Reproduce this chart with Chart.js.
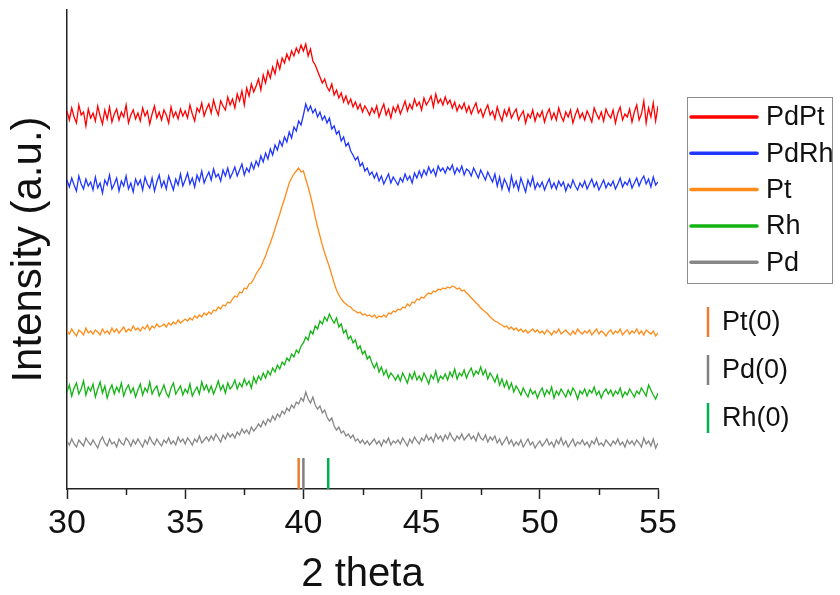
<!DOCTYPE html>
<html>
<head>
<meta charset="utf-8">
<script src="https://cdn.jsdelivr.net/npm/chart.js@4.4.1/dist/chart.umd.min.js"></script>
<style>
  html, body { margin: 0; padding: 0; background: #fff; }
  #wrap { width: 840px; height: 595px; }
</style>
</head>
<body>
<div id="wrap"><canvas id="c" width="840" height="595"></canvas></div>
<script>
// 2-theta sampling grid: 30.0 .. 55.0, step 0.1 (251 points)
const thetaStart = 30;
const thetaStep = 0.1;

// Offset intensities (a.u.), one value per 0.1 deg
const PdPt = [
  378,369,381,372,366,384,374,377,363,380,
  371,376,368,383,373,365,379,370,382,367,
  375,380,369,377,372,384,366,374,379,370,
  376,368,381,373,378,365,375,383,371,377,
  369,379,374,366,382,372,377,370,380,373,
  378,371,384,375,368,381,377,386,373,380,
  385,376,389,380,374,388,383,379,392,384,
  390,381,395,388,398,384,401,393,405,397,
  403,410,399,414,406,418,411,422,415,428,
  420,431,426,435,429,438,433,441,436,444,
  438,445,433,440,428,424,418,412,406,410,
  402,398,405,394,399,391,396,387,393,385,
  390,382,387,380,385,377,383,379,374,381,
  376,383,372,379,385,374,380,371,382,377,
  384,375,381,388,378,385,380,390,383,387,
  379,391,384,388,393,382,395,386,390,384,
  392,385,389,381,387,378,384,380,386,377,
  383,375,381,386,376,380,372,379,384,374,
  378,370,382,374,368,379,373,381,371,376,
  380,369,374,378,366,375,371,379,368,376,
  372,378,367,375,380,370,376,369,381,373,
  368,377,372,379,366,374,380,371,376,369,
  378,373,367,381,375,370,377,368,380,374,
  371,379,366,376,382,369,375,372,380,367,
  377,384,369,375,388,366,381,372,386,368,
  383
];
const PdRh = [
  309,302,311,304,298,313,305,300,310,303,
  307,299,312,301,306,296,309,304,314,300,
  305,311,298,308,303,313,300,306,297,310,
  304,309,299,312,305,301,311,298,307,314,
  302,308,300,313,306,299,310,304,315,303,
  309,316,305,311,302,314,308,318,306,312,
  317,309,320,312,315,308,319,313,321,311,
  316,322,313,319,325,314,321,317,326,320,
  328,323,333,327,336,330,340,334,344,339,
  348,343,352,347,357,351,362,358,368,364,
  374,385,378,383,376,380,372,377,369,373,
  366,371,360,363,355,358,348,352,343,346,
  338,334,329,332,323,326,318,321,314,317,
  311,316,308,313,305,310,315,306,312,308,
  304,311,307,315,309,313,306,316,311,318,
  312,319,314,322,316,320,313,323,318,321,
  316,322,319,324,315,321,317,323,314,320,
  318,313,321,316,311,319,314,309,317,312,
  307,315,303,312,300,310,305,298,313,302,
  308,299,311,304,297,309,303,312,300,306,
  302,307,299,305,310,301,306,300,308,303,
  307,298,305,301,309,303,299,306,302,308,
  300,305,310,302,307,299,304,309,301,306,
  303,308,300,305,311,302,307,304,310,301,
  306,311,303,309,313,305,310,302,312,304,
  307
];
const Pt = [
  158,155,160,156,153,159,157,154,161,156,
  158,155,159,157,154,160,156,158,155,161,
  157,160,156,159,162,157,160,158,163,159,
  161,158,162,160,164,159,163,161,165,162,
  163,165,162,166,164,167,165,169,166,168,
  170,168,171,169,173,171,174,172,176,174,
  177,175,179,178,182,180,184,183,187,186,
  190,193,192,197,196,201,200,205,206,210,
  215,219,222,228,233,240,246,253,260,268,
  275,283,290,298,306,311,315,318,321,317,
  318,310,302,293,283,272,262,253,244,236,
  229,222,214,206,199,194,190,187,185,183,
  182,179,178,176,177,174,175,173,174,172,
  174,171,173,172,174,172,176,175,178,177,
  180,179,182,181,185,183,187,186,190,189,
  192,191,194,196,195,198,197,200,199,201,
  200,202,201,203,202,200,201,198,199,196,
  194,191,189,186,184,181,179,177,175,172,
  170,168,167,165,164,162,163,160,162,159,
  161,158,160,157,159,156,158,160,157,159,
  156,158,155,159,157,154,158,156,160,155,
  157,159,156,154,158,155,160,157,155,158,
  156,159,154,157,160,155,158,156,153,157,
  159,155,158,156,160,154,157,159,155,158,
  156,160,155,158,154,159,157,155,158,153,
  156
];
const Rh = [
  97,104,93,101,106,95,100,108,94,102,
  98,105,92,100,107,96,103,91,99,104,
  95,102,97,106,93,100,104,96,101,92,
  99,105,94,101,97,107,95,100,103,93,
  98,104,96,92,101,106,95,99,103,94,
  100,96,105,93,98,102,95,107,99,104,
  97,103,95,101,108,99,104,96,106,100,
  103,109,100,106,102,110,104,108,101,112,
  106,113,109,116,111,118,114,121,117,124,
  120,127,124,131,128,135,132,139,136,143,
  146,152,149,158,155,163,160,168,165,172,
  168,175,170,166,171,162,165,156,159,150,
  153,146,149,140,143,135,138,130,133,126,
  121,126,117,122,114,119,111,116,113,109,
  114,108,116,111,106,115,110,117,109,113,
  108,116,111,105,114,110,118,107,113,110,
  115,109,117,112,120,110,116,113,119,111,
  117,121,113,118,115,122,114,119,110,116,
  112,107,114,104,110,102,108,100,106,97,
  103,99,94,101,96,92,100,95,98,91,
  97,101,93,99,95,102,91,98,94,100,
  96,92,99,94,101,97,90,98,95,100,
  93,99,96,102,94,98,91,97,100,95,
  99,93,98,95,101,92,97,94,100,96,
  92,98,95,101,97,93,104,99,94,90,
  96
];
const Pd = [
  48,44,50,45,42,49,46,43,51,47,
  44,49,45,41,48,52,46,43,50,45,
  47,42,50,46,44,51,48,43,49,45,
  50,46,42,49,45,52,47,44,50,46,
  43,49,46,51,45,48,44,52,47,50,
  45,51,48,44,50,47,53,46,49,52,
  48,53,49,55,51,47,54,50,56,52,
  55,51,57,54,60,56,59,55,62,58,
  61,65,62,68,64,70,67,73,69,75,
  72,78,75,81,78,84,81,87,85,91,
  88,97,90,86,92,84,80,83,76,79,
  72,68,71,63,59,62,56,58,53,55,
  51,54,48,50,46,49,45,48,44,47,
  50,45,48,43,49,46,51,44,48,46,
  49,45,51,47,43,50,46,52,48,45,
  51,48,54,49,52,47,55,50,53,48,
  54,50,56,51,48,53,50,55,49,52,
  55,50,53,48,56,51,49,54,47,52,
  49,53,46,50,44,48,52,45,49,43,
  47,44,49,42,46,50,44,47,41,45,
  48,43,46,50,44,47,42,49,45,51,
  44,48,42,46,50,43,47,45,49,44,
  47,42,48,45,51,44,46,43,49,46,
  43,48,45,50,44,47,42,49,45,48,
  44,49,46,42,51,45,48,43,50,41,
  46
];

// Reference (standard) peak positions and stick heights
const refLabels = ['Pt(0)', 'Pd(0)', 'Rh(0)'];
const refPositions = [39.8, 40.0, 41.05];
const refHeight = [31, 31, 31];

const xTicksMajor = [30, 35, 40, 45, 50, 55];
const xTicksMinor = [32.5, 37.5, 42.5, 47.5, 52.5];

const seriesNames = ['PdPt', 'PdRh', 'Pt', 'Rh', 'Pd'];
const seriesValues = [PdPt, PdRh, Pt, Rh, Pd];
const seriesColors = ['#ff0000', '#2036ff', '#ff8c1a', '#14b414', '#878787'];
const refColors = ['#ed7d31', '#808080', '#00b050'];

const FONT = "'Liberation Sans', Arial, sans-serif";
const INK = '#111111';

function toPoints(vals) {
  return vals.map((v, i) => ({ x: +(thetaStart + i * thetaStep).toFixed(2), y: v }));
}

const datasets = seriesValues.map((vals, k) => ({
  label: seriesNames[k],
  data: toPoints(vals),
  borderColor: seriesColors[k],
  backgroundColor: seriesColors[k],
  borderWidth: 1.3,
  pointRadius: 0,
  tension: 0,
  fill: false
}));
refPositions.forEach((p, k) => {
  datasets.push({
    label: refLabels[k],
    data: [{ x: p, y: 0 }, { x: p, y: refHeight[k] }],
    borderColor: refColors[k],
    backgroundColor: refColors[k],
    borderWidth: 2.5,
    pointRadius: 0,
    fill: false,
    isRef: true
  });
});

const decorPlugin = {
  id: 'decor',
  afterDraw(chart) {
    const ctx = chart.ctx;
    const xs = chart.scales.x;
    const area = chart.chartArea;
    ctx.save();
    // minor ticks
    ctx.strokeStyle = '#222';
    ctx.lineWidth = 1.5;
    xTicksMinor.forEach(v => {
      const px = Math.round(xs.getPixelForValue(v)) + 0.5;
      ctx.beginPath();
      ctx.moveTo(px, area.bottom);
      ctx.lineTo(px, area.bottom + 6);
      ctx.stroke();
    });
    // series legend with frame
    ctx.strokeStyle = '#8c8c8c';
    ctx.lineWidth = 1;
    ctx.strokeRect(687.5, 97.5, 145, 186);
    ctx.font = '27px ' + FONT;
    ctx.textBaseline = 'middle';
    ctx.textAlign = 'left';
    const ds = chart.data.datasets.filter(d => !d.isRef);
    ds.forEach((d, i) => {
      const y = 117 + i * 36.3;
      ctx.strokeStyle = d.borderColor;
      ctx.lineWidth = 3.5;
      ctx.lineCap = 'round';
      ctx.beginPath();
      ctx.moveTo(691, y);
      ctx.lineTo(757, y);
      ctx.stroke();
      ctx.fillStyle = INK;
      ctx.fillText(d.label, 766, y + 1);
    });
    // reference legend
    const rs = chart.data.datasets.filter(d => d.isRef);
    rs.forEach((d, i) => {
      const y = 322 + i * 48;
      ctx.strokeStyle = d.borderColor;
      ctx.lineWidth = 2.5;
      ctx.lineCap = 'butt';
      ctx.beginPath();
      ctx.moveTo(708, y - 15);
      ctx.lineTo(708, y + 15);
      ctx.stroke();
      ctx.fillStyle = INK;
      ctx.fillText(d.label, 722, y + 1);
    });
    ctx.restore();
  }
};

new Chart(document.getElementById('c'), {
  type: 'line',
  data: { datasets },
  plugins: [decorPlugin],
  options: {
    responsive: false,
    animation: false,
    devicePixelRatio: 1,
    layout: { padding: { top: 10, right: 182, bottom: 0, left: 0 } },
    plugins: { legend: { display: false }, tooltip: { enabled: false } },
    scales: {
      x: {
        type: 'linear',
        min: 30,
        max: 55,
        afterFit: s => { s.height = 106; },
        afterBuildTicks: s => { s.ticks = xTicksMajor.map(v => ({ value: v })); },
        ticks: {
          color: INK,
          font: { family: FONT, size: 34 },
          padding: 4,
          maxRotation: 0,
          autoSkip: false
        },
        grid: {
          display: true,
          drawOnChartArea: false,
          drawTicks: true,
          tickLength: 10,
          tickColor: '#222',
          tickWidth: 1.5
        },
        border: { display: true, color: '#222', width: 1.5 },
        title: {
          display: true,
          text: '2 theta',
          color: INK,
          font: { family: FONT, size: 40, lineHeight: 1 },
          padding: { top: 0, bottom: 0 }
        }
      },
      y: {
        type: 'linear',
        min: 0,
        max: 479,
        afterFit: s => { s.width = 67; },
        ticks: { display: false },
        grid: { display: true, drawOnChartArea: false, drawTicks: false },
        border: { display: true, color: '#222', width: 1.5 },
        title: {
          display: true,
          text: 'Intensity (a.u.)',
          color: INK,
          font: { family: FONT, size: 42, lineHeight: 1 },
          padding: { top: 8, bottom: 0 }
        }
      }
    }
  }
});
</script>
</body>
</html>
